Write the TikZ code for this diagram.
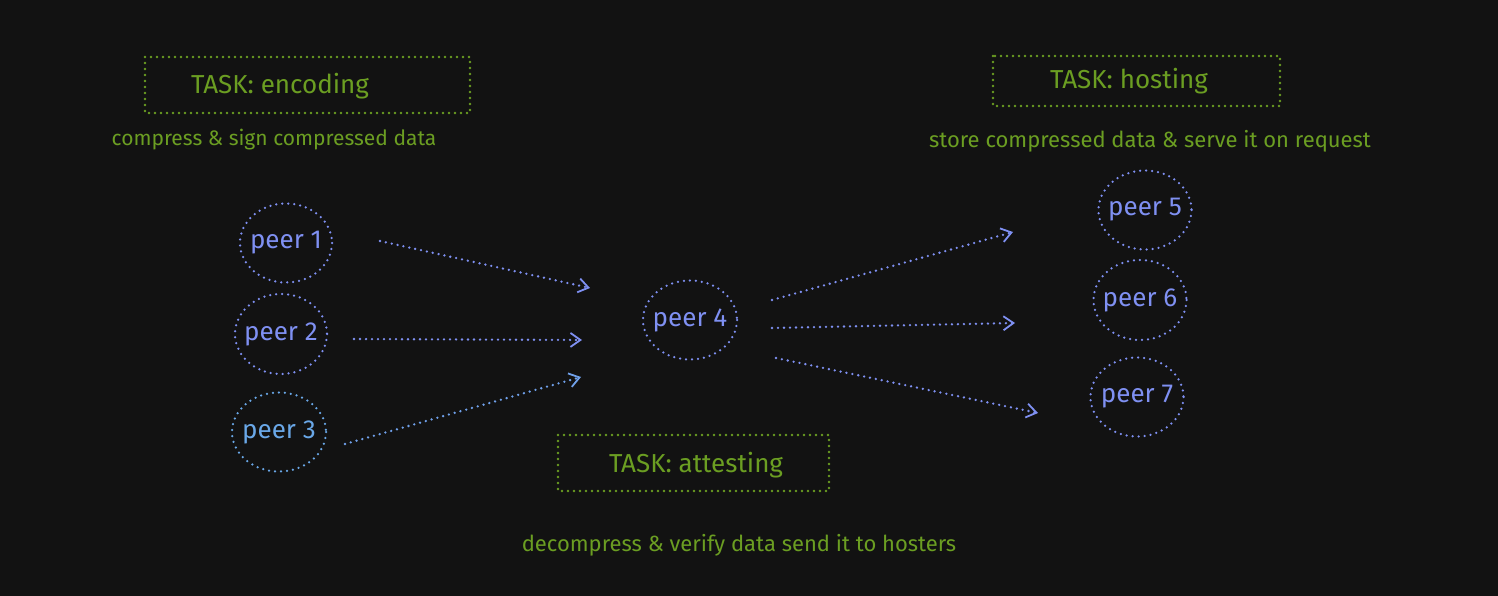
\documentclass[tikz,border=0pt]{standalone}
\usepackage{fontspec}
\setmainfont{Fira Sans}
\usetikzlibrary{arrows.meta}
\definecolor{bg}{HTML}{121212}
\definecolor{grn}{HTML}{6B9E22}
\definecolor{blu}{HTML}{7F90F2}
\definecolor{blu3}{HTML}{6AA8E8}
\tikzset{
  x=1pt, y=-1pt,
  dots/.style={line cap=round, dash pattern=on 0pt off 6pt},
  taskbox/.style={draw=grn, dots, line width=2.6pt},
  tasktext/.style={text=grn, font=\fontsize{26}{28}\selectfont},
  desc/.style={text=grn, font=\fontsize{21}{24}\selectfont},
  descw/.style={text=grn, font=\fontsize{22}{24}\selectfont},
  peer/.style={text=#1, inner sep=0pt, font=\fontsize{26}{28}\selectfont},
  ring/.style={draw=#1, dots, line width=2.5pt},
  flow/.style={draw=#1, dots, line width=2.6pt, -{Straight Barb[length=10pt,width=14pt,line width=1.8pt]}},
}
\begin{document}
\begin{tikzpicture}
\fill[bg] (0,0) rectangle (1498,596);
\useasboundingbox (0,0) rectangle (1498,596);

% task boxes
\draw[taskbox] (145,57) rectangle (470,113);
\node[tasktext] (tenc) at (280,86) {TASK: encoding};
\node[desc] (denc) at (274,140) {compress \& sign compressed data};

\draw[taskbox] (993,56) rectangle (1280,106);
\node[tasktext] (thost) at (1129,81) {TASK: hosting};
\node[descw] (dhost) at (1150,141) {store compressed data \& serve it on request};

\draw[taskbox] (558,435) rectangle (829,491);
\node[tasktext] (tatt) at (696,465) {TASK: attesting};
\node[descw] (datt) at (739,545) {decompress \& verify data send it to hosters};

% peers
\node[peer=blu] (p1) at (286,243) {peer 1};
\draw[ring=blu] (p1.center) ellipse [x radius=46, y radius=39.5];
\node[peer=blu] (p2) at (281,334) {peer 2};
\draw[ring=blu] (p2.center) ellipse [x radius=46, y radius=40];
\node[peer=blu3] (p3) at (279,432) {peer 3};
\draw[ring=blu3] (p3.center) ellipse [x radius=47, y radius=39.5];
\node[peer=blu] (p4) at (690,320) {peer 4};
\draw[ring=blu] (p4.center) ellipse [x radius=47, y radius=39.5];
\node[peer=blu] (p5) at (1145,210) {peer 5};
\draw[ring=blu] (p5.center) ellipse [x radius=46.5, y radius=39.5];
\node[peer=blu] (p6) at (1140,300) {peer 6};
\draw[ring=blu] (p6.center) ellipse [x radius=46.5, y radius=40];
\node[peer=blu] (p7) at (1137,397) {peer 7};
\draw[ring=blu] (p7.center) ellipse [x radius=46.5, y radius=39.5];

% arrow end coordinates
\coordinate (a1s) at (380,241); \coordinate (a1e) at (590,288);
\coordinate (a2s) at (354,339); \coordinate (a2e) at (582,340);
\coordinate (a3s) at (345,444); \coordinate (a3e) at (581,377);
\coordinate (b5s) at (772,300); \coordinate (b5e) at (1013,232);
\coordinate (b6s) at (772,328); \coordinate (b6e) at (1015,323);
\coordinate (b7s) at (776,358); \coordinate (b7e) at (1038,413);

\draw[flow=blu] (a1s) -- (a1e);
\draw[flow=blu] (a2s) -- (a2e);
\draw[flow=blu3!70!blu] (a3s) -- (a3e);
\draw[flow=blu] (b5s) -- (b5e);
\draw[flow=blu] (b6s) -- (b6e);
\draw[flow=blu] (b7s) -- (b7e);
\end{tikzpicture}
\end{document}
